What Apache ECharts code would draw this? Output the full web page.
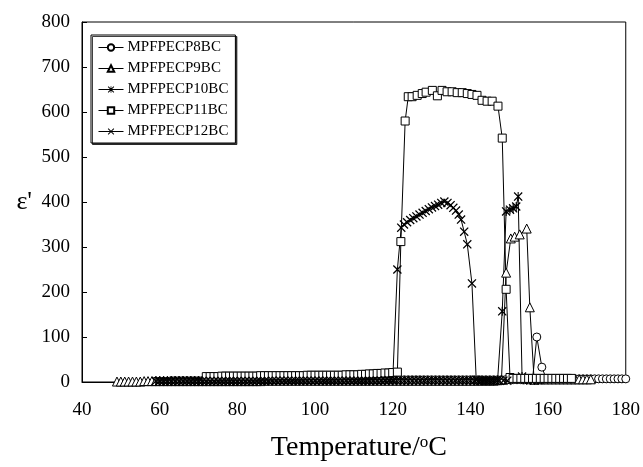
<!DOCTYPE html>
<html>
<head>
<meta charset="utf-8">
<script src="https://cdn.jsdelivr.net/npm/echarts@6/dist/echarts.min.js"></script>
<style>html,body{margin:0;padding:0;background:#fff;}#c{width:643px;height:467px;}</style>
</head>
<body>
<div id="c"></div>
<script>
// ---- data ----
const seriesNames = ['MPFPECP8BC','MPFPECP9BC','MPFPECP10BC','MPFPECP11BC','MPFPECP12BC'];
const xTicks = [40,60,80,100,120,140,160,180];
const yTicks = [0,100,200,300,400,500,600,700,800];

const t8 = [59,60,61,62,63,64,65,66,67,68,69,70,71,72,73,74,75,76,77,78,79,80,81,82,83,84,85,86,87,88,89,90,91,92,93,94,95,96,97,98,99,100,101,102,103,104,105,106,107,108,109,110,111,112,113,114,115,116,117,118,119,120,121,122,123,124,125,126,127,128,129,130,131,132,133,134,135,136,137,138,139,140,141,142,143,144,145,146,147,148,149,150,151,152,153,154,155,156,157.1,158.4,159.5,161,162,163,164,165,166,167,168,169,170,171,172,173,174,175,176,177,178,179,180];
const e8 = [2,2,2,2,3,3,3,3,3,3,3,3,3,3,3,3,3,3,3,3,3,3,3,3,3,3,3,3,3,3,3,3,3,3,4,4,4,4,4,4,4,4,4,4,4,4,4,4,4,4,4,4,4,4,4,4,4,4,5,5,5,5,5,5,5,5,5,5,5,5,5,5,5,5,5,5,5,5,5,5,5,5,5,5,5,5,5,5,5,5,5,5,5,5,5,5,5,6,100,33,8,7,7,7,7,7,7,7,7,7,7,7,7,7,7,7,7,7,7,7,7];

const t9 = [49,50,51,52,53,54,55,56,57,58,59,60,61,62,63,64,65,66,67,68,69,70,71,72,73,74,75,76,77,78,79,80,81,82,83,84,85,86,87,88,89,90,91,92,93,94,95,96,97,98,99,100,101,102,103,104,105,106,107,108,109,110,111,112,113,114,115,116,117,118,119,120,121,122,123,124,125,126,127,128,129,130,131,132,133,134,135,136,137,138,139,140,141,142,143,144,145,146,147,148,149.2,150.4,151.4,152.7,154.5,155.3,156.4,158,159,160,161,162,163,164,165,166,167,168,169,170,171];
const e9 = [1,1,1,1,1,1,1,2,2,2,2,2,2,2,2,2,2,2,2,2,2,2,2,2,2,2,2,2,2,2,2,2,2,2,2,2,2,2,3,3,3,3,3,3,3,3,3,3,3,3,3,3,3,3,3,3,3,3,3,3,3,3,3,3,3,3,3,3,3,3,3,3,3,3,3,3,3,3,3,3,3,3,3,3,3,3,3,3,3,3,3,3,3,3,3,3,3,3,4,5,243,319,323,328,341,166,5,6,6,6,6,6,6,6,6,6,6,6,6,6,6];

const t10 = [59,60,61,62,63,64,65,66,67,68,69,70,71,72,73,74,75,76,77,78,79,80,81,82,83,84,85,86,87,88,89,90,91,92,93,94,95,96,97,98,99,100,101,102,103,104,105,106,107,108,109,110,111,112,113,114,115,116,117,118,119,120,121,122,123,124,125,126,127,128,129,130,131,132,133,134,135,136,137,138,139,140,141,142,143,144,145,146,147,148.2,149.2,150.2,151,151.8,152.3,153.3,154.5,155.5,156.5,157.5];
const e10 = [2,2,2,2,2,2,2,2,2,2,2,2,2,2,2,2,2,2,2,2,2,2,2,2,2,2,3,3,3,3,3,3,3,3,3,3,3,3,3,3,3,3,3,3,3,3,3,3,3,3,3,3,3,3,3,3,3,3,3,3,3,3,3,3,3,3,3,3,3,3,3,3,3,3,3,3,3,3,3,3,3,3,3,3,3,3,3,3,4,157,379,383,386,390,412,12,4,4,4,4];

const t11 = [72,73,74,75,76,77,78,79,80,81,82,83,84,85,86,87,88,89,90,91,92,93,94,95,96,97,98,99,100,101,102,103,104,105,106,107,108,109,110,111,112,113,114,115,116,117,118,119,120,121.2,122.1,123.2,124.0,125.0,126.3,127.6,128.6,130.2,131.5,132.7,134.0,135.3,136.6,137.9,139.2,140.4,141.7,143.0,144.3,145.6,147.1,148.2,149.2,150.2,151,152,153,154,155,156,157,158,159,160,161,162,163,164,165,166];
const e11 = [12,12,12,12,13,13,13,13,13,13,13,13,13,13,14,14,14,14,14,14,14,14,14,14,14,14,15,15,15,15,15,15,15,15,15,15,16,16,16,16,17,17,18,18,19,19,20,20,21,22,312,580,634,634,637,641,644,648,636,648,645,645,643,643,641,639,637,626,624,624,613,542,206,10,8,8,8,8,8,8,8,8,8,8,8,8,8,8,8,8];

const t12 = [60,61,62,63,64,65,66,67,68,69,70,71,72,73,74,75,76,77,78,79,80,81,82,83,84,85,86,87,88,89,90,91,92,93,94,95,96,97,98,99,100,101,102,103,104,105,106,107,108,109,110,111,112,113,114,115,116,117,118,119,120,121.2,122.2,122.9,123.7,124.5,125.3,126.1,126.9,127.7,128.5,129.3,130.1,130.9,131.7,132.5,133.3,134.1,134.9,135.6,136.3,137.0,137.6,138.4,139.2,140.4,141.5,142.5,143.5,144.5,145.5,146.5,147.5,148.5,149.5];
const e12 = [2,2,2,2,2,2,2,2,2,2,2,2,2,2,2,2,2,2,2,2,2,2,2,2,2,2,2,2,2,3,3,3,3,3,3,3,3,3,3,3,3,3,3,3,3,3,3,3,3,3,3,3,3,3,3,3,3,3,4,4,4,250,343,350,355,360,364,368,372,376,380,384,388,391,394,398,401,398,393,387,381,372,361,334,306,219,5,3,3,3,3,3,3,3,3];

// ---- chart ----
const zip = (a, b) => a.map((v, i) => [v, b[i]]);
const crossPath = 'path://M1,0 L5,4 L9,0 L10,1 L6,5 L10,9 L9,10 L5,6 L1,10 L0,9 L4,5 L0,1 Z';
const starPath = 'path://M1,0 L5,4 L9,0 L10,1 L6,5 L10,9 L9,10 L5,6 L1,10 L0,9 L4,5 L0,1 Z M4.4,0 L5.6,0 L5.6,10 L4.4,10 Z';
const hollow = {color: '#fff', borderColor: '#000', borderWidth: 1};
const solid = {color: '#000', borderWidth: 0};
const marks = [
  {symbol: 'circle', size: 8, style: hollow},
  {symbol: 'triangle', size: 9, style: hollow},
  {symbol: starPath, size: 9, style: solid},
  {symbol: 'rect', size: 8, style: hollow},
  {symbol: crossPath, size: 9, style: solid}
];
const dataSets = [zip(t8,e8), zip(t9,e9), zip(t10,e10), zip(t11,e11), zip(t12,e12)];
const FONT = '"Liberation Serif", "Times New Roman", serif';

const chart = echarts.init(document.getElementById('c'), null, {renderer: 'canvas'});
chart.setOption({
  animation: false,
  backgroundColor: '#fff',
  grid: {left: 82, right: 16, top: 22, bottom: 84, show: true, borderColor: '#000', borderWidth: 1, backgroundColor: 'transparent'},
  legend: {
    orient: 'vertical', left: 91, top: 35,
    data: seriesNames,
    padding: [5, 7, 4, 7],
    itemGap: 6, itemWidth: 25, itemHeight: 8,
    backgroundColor: '#fff', borderColor: '#000', borderWidth: 1,
    shadowColor: 'rgba(0,0,0,0.75)', shadowOffsetX: 1.5, shadowOffsetY: 1.5, shadowBlur: 0,
    lineStyle: {width: 1, color: '#000'},
    textStyle: {fontFamily: FONT, fontSize: 15, color: '#000', padding: [0,0,0,-1]}
  },
  xAxis: {
    type: 'value', min: 40, max: 180, interval: 20,
    name: 'Temperature/{s|o}C', nameLocation: 'middle', nameGap: 52,
    nameTextStyle: {fontFamily: FONT, fontSize: 28, color: '#000', padding: [0,0,0,10], rich: {s: {fontFamily: FONT, fontSize: 17, verticalAlign: 'top', lineHeight: 17, padding: [0,0,10,0]}}},
    axisLine: {lineStyle: {color: '#000', width: 1}},
    axisTick: {show: true, inside: true, length: 5, lineStyle: {color: '#000'}},
    axisLabel: {fontFamily: FONT, fontSize: 19, color: '#000', margin: 19, formatter: v => xTicks.includes(v) ? String(v) : ''},
    splitLine: {show: false}
  },
  yAxis: {
    type: 'value', min: 0, max: 800, interval: 100,
    name: "ε'", nameLocation: 'middle', nameGap: 50, nameRotate: 0,
    nameTextStyle: {fontFamily: FONT, fontSize: 26, color: '#000', padding: [10,0,0,0]},
    axisLine: {lineStyle: {color: '#000', width: 1}},
    axisTick: {show: true, inside: true, length: 5, lineStyle: {color: '#000'}},
    axisLabel: {fontFamily: FONT, fontSize: 19, color: '#000', margin: 12, formatter: v => yTicks.includes(v) ? String(v) : ''},
    splitLine: {show: false}
  },
  series: seriesNames.map((n, i) => ({
    name: n, type: 'line', data: dataSets[i],
    symbol: marks[i].symbol, symbolSize: marks[i].size, showAllSymbol: true,
    itemStyle: marks[i].style,
    lineStyle: {color: '#000', width: 1},
    emphasis: {disabled: true}
  }))
});
</script>
</body>
</html>
